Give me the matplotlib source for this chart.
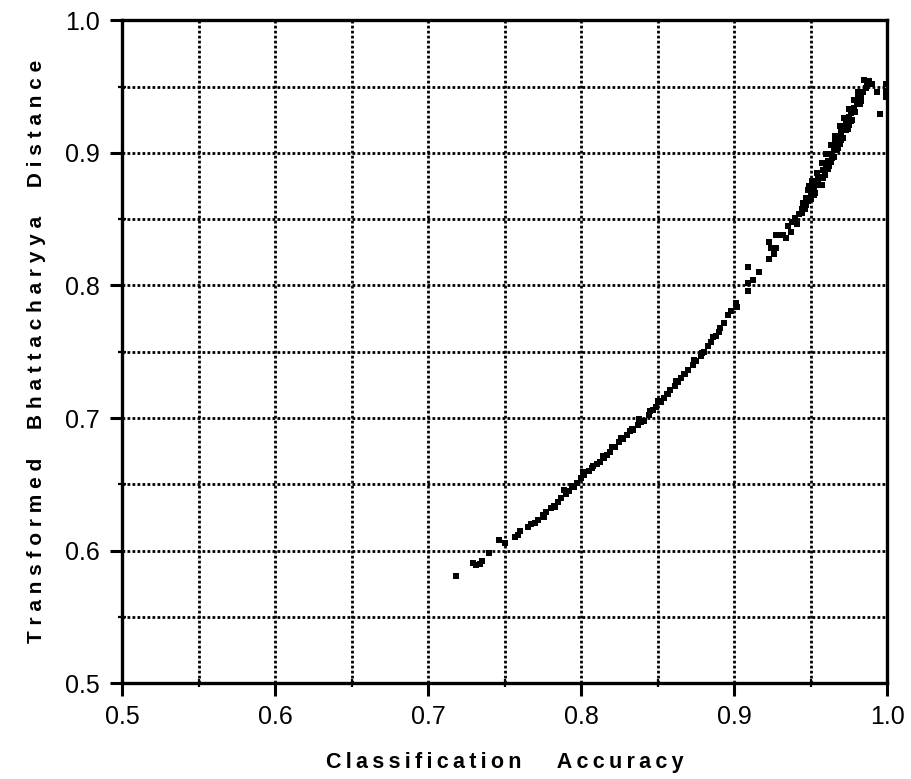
import matplotlib
matplotlib.use("Agg")
import matplotlib.pyplot as plt
from matplotlib.ticker import MultipleLocator

# points, lower tail first
acc_tail = [0.718, 0.729, 0.731, 0.734, 0.735, 0.740, 0.746, 0.750, 0.757, 0.759, 0.760, 0.765, 0.767, 0.770]
tbd_tail = [0.581, 0.591, 0.589, 0.590, 0.592, 0.598, 0.608, 0.606, 0.610, 0.612, 0.615, 0.618, 0.620, 0.621]

# dense middle segment
acc_mid = [0.772, 0.775, 0.777, 0.780, 0.782, 0.785, 0.787, 0.790, 0.792, 0.795, 0.797, 0.800,
           0.802, 0.805, 0.807, 0.810, 0.812, 0.815, 0.817, 0.819, 0.822, 0.825, 0.827, 0.830,
           0.832, 0.834, 0.837, 0.839, 0.841, 0.844, 0.847, 0.849, 0.852, 0.854, 0.856, 0.858,
           0.861, 0.863, 0.865, 0.868, 0.870, 0.873, 0.875, 0.878, 0.880, 0.883, 0.885, 0.888,
           0.891, 0.893, 0.896, 0.898,
           0.776, 0.789, 0.801, 0.814, 0.826, 0.838, 0.850, 0.862, 0.874, 0.886,
           0.783, 0.794, 0.808, 0.820, 0.833, 0.845, 0.857, 0.867, 0.879, 0.890]
tbd_mid = [0.623, 0.627, 0.629, 0.632, 0.634, 0.637, 0.640, 0.643, 0.645, 0.648, 0.651, 0.655,
           0.657, 0.660, 0.662, 0.665, 0.667, 0.670, 0.672, 0.674, 0.678, 0.682, 0.684, 0.687,
           0.690, 0.691, 0.695, 0.697, 0.698, 0.702, 0.706, 0.708, 0.712, 0.715, 0.718, 0.721,
           0.724, 0.727, 0.730, 0.733, 0.736, 0.740, 0.743, 0.747, 0.750, 0.754, 0.757, 0.762,
           0.768, 0.772, 0.778, 0.781,
           0.625, 0.646, 0.659, 0.671, 0.685, 0.699, 0.713, 0.728, 0.744, 0.761,
           0.633, 0.649, 0.664, 0.678, 0.692, 0.705, 0.718, 0.733, 0.749, 0.765]

# sparse points around the gap near 0.9
acc_gap = [0.901, 0.902, 0.909, 0.909, 0.912, 0.909, 0.916, 0.923, 0.924, 0.927, 0.926, 0.923,
           0.927, 0.930, 0.932, 0.934, 0.935, 0.938, 0.940, 0.942, 0.944, 0.946, 0.948, 0.937, 0.941]
tbd_gap = [0.787, 0.784, 0.802, 0.796, 0.804, 0.814, 0.810, 0.820, 0.828, 0.828, 0.824, 0.833,
           0.838, 0.838, 0.838, 0.836, 0.845, 0.848, 0.851, 0.854, 0.858, 0.862, 0.864, 0.840, 0.846]

# upper band, two edges plus centre
acc_top = [0.945, 0.947, 0.950, 0.952, 0.954, 0.956, 0.958, 0.960, 0.961, 0.963, 0.965, 0.966,
           0.968, 0.970, 0.971, 0.973, 0.975, 0.976, 0.978, 0.980, 0.981, 0.983, 0.984, 0.986, 0.988,
           0.948, 0.951, 0.954, 0.957, 0.960, 0.963, 0.966, 0.969, 0.972, 0.975, 0.978, 0.981,
           0.944, 0.947, 0.950, 0.953, 0.956, 0.959, 0.962, 0.965, 0.968, 0.971, 0.974, 0.977,
           0.946, 0.949, 0.955, 0.961, 0.967, 0.973, 0.979, 0.983, 0.987,
           0.952, 0.958, 0.964, 0.970, 0.976, 0.982, 0.957, 0.963, 0.969, 0.975]
tbd_top = [0.862, 0.866, 0.870, 0.874, 0.877, 0.882, 0.887, 0.891, 0.894, 0.899, 0.904, 0.908,
           0.912, 0.916, 0.919, 0.923, 0.927, 0.930, 0.934, 0.938, 0.941, 0.944, 0.946, 0.949, 0.954,
           0.872, 0.879, 0.885, 0.892, 0.899, 0.906, 0.913, 0.920, 0.926, 0.933, 0.940, 0.946,
           0.855, 0.861, 0.865, 0.870, 0.876, 0.883, 0.890, 0.897, 0.904, 0.911, 0.918, 0.925,
           0.858, 0.875, 0.880, 0.888, 0.902, 0.917, 0.931, 0.939, 0.951,
           0.868, 0.881, 0.896, 0.910, 0.924, 0.937, 0.876, 0.893, 0.907, 0.921]

# outliers near the right edge
acc_out = [0.993, 0.995, 0.999, 0.999, 0.999, 0.985, 0.990]
tbd_out = [0.946, 0.929, 0.952, 0.947, 0.942, 0.955, 0.952]

acc = acc_tail + acc_mid + acc_gap + acc_top + acc_out
tbd = tbd_tail + tbd_mid + tbd_gap + tbd_top + tbd_out

plt.rcParams['font.family'] = ['Liberation Sans', 'DejaVu Sans']

fig = plt.figure(figsize=(9.11, 7.79), dpi=100)
ax = fig.add_axes([0.134, 0.123, 0.840, 0.851])

ax.scatter(acc, tbd, s=14, marker='s', color='black', linewidths=0, zorder=3)

ax.set_xlim(0.5, 1.0)
ax.set_ylim(0.5, 1.0)
ax.xaxis.set_major_locator(MultipleLocator(0.1))
ax.yaxis.set_major_locator(MultipleLocator(0.1))
ax.xaxis.set_minor_locator(MultipleLocator(0.05))
ax.yaxis.set_minor_locator(MultipleLocator(0.05))
ax.xaxis.set_major_formatter(lambda v, p: f"{v:.1f}")
ax.yaxis.set_major_formatter(lambda v, p: f"{v:.1f}")

# dotted grid on every 0.05
ax.grid(which='both', color='black', linestyle=(0, (1, 0.8)), linewidth=2.0, zorder=1)

for s in ax.spines.values():
    s.set_linewidth(2.4)
    s.set_color('black')

ax.tick_params(which='major', direction='out', length=9, width=2.2, labelsize=18, pad=7)
ax.tick_params(which='minor', direction='inout', length=6, width=1.6)

ts = "\u2009"
xlab = ts.join("Classification") + "      " + ts.join("Accuracy")
ax.set_xlabel(xlab, fontsize=15.5, fontweight='bold', labelpad=16)
ax.set_ylabel("T r a n s f o r m e d     B h a t t a c h a r y y a     D i s t a n c e",
              fontsize=15, fontweight='bold', labelpad=14)

fig.savefig("out.png", dpi=100)
